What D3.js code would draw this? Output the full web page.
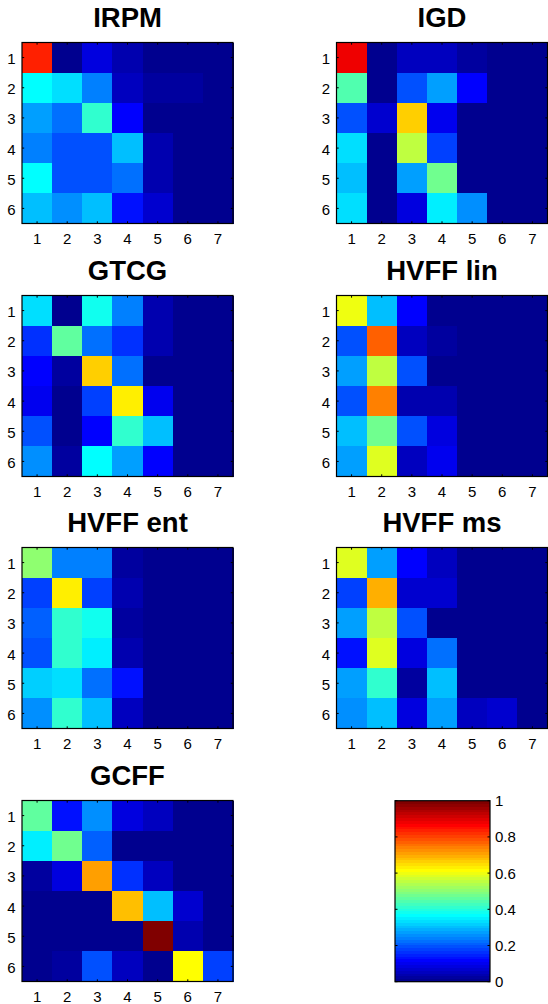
<!DOCTYPE html>
<html>
<head>
<meta charset="utf-8">
<script src="https://cdn.jsdelivr.net/npm/d3@7/dist/d3.min.js"></script>
<style>
  html, body { margin: 0; padding: 0; background: #fff; }
  svg { display: block; }
  text { font-family: "Liberation Sans", Arial, Helvetica, sans-serif; fill: #000; }
</style>
</head>
<body>
<svg id="chart" width="548" height="1004"></svg>
<script>
// ---- Data (scale 0..1) ----
const xTicks = [1, 2, 3, 4, 5, 6, 7];
const yTicks = [1, 2, 3, 4, 5, 6];
const colorbarTicks = [0, 0.2, 0.4, 0.6, 0.8, 1];
const titles = ["IRPM", "IGD", "GTCG", "HVFF lin", "HVFF ent", "HVFF ms", "GCFF"];

const irpm = [
  [0.84, 0.01, 0.09, 0.04, 0.01, 0.01, 0.01],
  [0.37, 0.33, 0.24, 0.05, 0.025, 0.03, 0.01],
  [0.27, 0.22, 0.41, 0.12, 0.01, 0.01, 0.01],
  [0.24, 0.20, 0.20, 0.31, 0.04, 0.01, 0.01],
  [0.36, 0.19, 0.20, 0.22, 0.04, 0.01, 0.01],
  [0.30, 0.26, 0.30, 0.135, 0.07, 0.01, 0.01]
];
const igd = [
  [0.88, 0.01, 0.05, 0.05, 0.03, 0.01, 0.01],
  [0.44, 0.01, 0.20, 0.27, 0.12, 0.01, 0.01],
  [0.19, 0.07, 0.66, 0.10, 0.01, 0.01, 0.01],
  [0.33, 0.01, 0.55, 0.175, 0.01, 0.01, 0.01],
  [0.30, 0.01, 0.27, 0.475, 0.01, 0.01, 0.01],
  [0.33, 0.01, 0.09, 0.35, 0.26, 0.01, 0.01]
];
const gtcg = [
  [0.34, 0.01, 0.39, 0.24, 0.04, 0.01, 0.01],
  [0.16, 0.46, 0.225, 0.16, 0.04, 0.01, 0.01],
  [0.12, 0.02, 0.67, 0.225, 0.01, 0.01, 0.01],
  [0.10, 0.015, 0.175, 0.64, 0.10, 0.01, 0.01],
  [0.19, 0.01, 0.12, 0.41, 0.30, 0.01, 0.01],
  [0.26, 0.02, 0.36, 0.27, 0.12, 0.01, 0.01]
];
const hvffLin = [
  [0.60, 0.30, 0.12, 0.01, 0.01, 0.01, 0.01],
  [0.19, 0.77, 0.05, 0.025, 0.01, 0.01, 0.01],
  [0.27, 0.56, 0.19, 0.01, 0.01, 0.01, 0.01],
  [0.19, 0.74, 0.04, 0.04, 0.01, 0.01, 0.01],
  [0.30, 0.47, 0.195, 0.09, 0.01, 0.01, 0.01],
  [0.27, 0.59, 0.06, 0.10, 0.01, 0.01, 0.01]
];
const hvffEnt = [
  [0.51, 0.24, 0.24, 0.02, 0.01, 0.01, 0.01],
  [0.175, 0.64, 0.175, 0.04, 0.01, 0.01, 0.01],
  [0.21, 0.41, 0.375, 0.03, 0.01, 0.01, 0.01],
  [0.195, 0.41, 0.355, 0.04, 0.01, 0.01, 0.01],
  [0.32, 0.34, 0.225, 0.135, 0.01, 0.01, 0.01],
  [0.26, 0.41, 0.30, 0.06, 0.01, 0.01, 0.01]
];
const hvffMs = [
  [0.59, 0.27, 0.12, 0.05, 0.01, 0.01, 0.01],
  [0.175, 0.69, 0.07, 0.07, 0.01, 0.01, 0.01],
  [0.27, 0.56, 0.19, 0.01, 0.01, 0.01, 0.01],
  [0.135, 0.58, 0.09, 0.225, 0.01, 0.01, 0.01],
  [0.27, 0.42, 0.03, 0.31, 0.01, 0.01, 0.01],
  [0.26, 0.30, 0.09, 0.27, 0.05, 0.07, 0.01]
];
const gcff = [
  [0.46, 0.135, 0.25, 0.09, 0.06, 0.01, 0.01],
  [0.345, 0.475, 0.21, 0.01, 0.01, 0.01, 0.01],
  [0.02, 0.09, 0.71, 0.16, 0.06, 0.01, 0.01],
  [0.01, 0.01, 0.01, 0.675, 0.30, 0.07, 0.01],
  [0.01, 0.01, 0.01, 0.01, 0.99, 0.04, 0.01],
  [0.01, 0.02, 0.19, 0.06, 0.01, 0.615, 0.175]
];
const matrices = [irpm, igd, gtcg, hvffLin, hvffEnt, hvffMs, gcff];

// ---- MATLAB jet(64) colormap ----
function jet(m) {
  const n = Math.ceil(m / 4);
  const u = [];
  for (let i = 1; i <= n; i++) u.push(i / n);
  for (let i = 1; i < n; i++) u.push(1);
  for (let i = n; i >= 1; i--) u.push(i / n);
  const g0 = Math.ceil(n / 2) - ((m % 4) === 1 ? 1 : 0);
  const R = new Array(m).fill(0), G = new Array(m).fill(0), B = new Array(m).fill(0);
  u.forEach((val, k) => {
    const gi = g0 + k + 1, ri = gi + n, bi = gi - n;
    if (gi >= 1 && gi <= m) G[gi - 1] = val;
    if (ri >= 1 && ri <= m) R[ri - 1] = val;
    if (bi >= 1 && bi <= m) B[bi - 1] = val;
  });
  return d3.range(m).map(i => d3.rgb(R[i] * 255, G[i] * 255, B[i] * 255).formatHex());
}
const jet64 = jet(64);
const color = d3.scaleQuantize().domain([0, 1]).range(jet64);

const svg = d3.select("#chart");

// ---- layout ----
const panelW = 211, panelH = 181;
const colX = [22, 336.5];
const rowY = [42.5, 295.5, 547.5, 800.5];
const tickFont = 15;

matrices.forEach((mat, idx) => {
  const px = colX[idx % 2], py = rowY[Math.floor(idx / 2)];
  const g = svg.append("g").attr("transform", `translate(${px},${py})`);
  const x = d3.scaleBand().domain(xTicks).range([0, panelW]);
  const y = d3.scaleBand().domain(yTicks).range([0, panelH]);

  mat.forEach((row, r) => {
    g.selectAll(null).data(row).enter().append("rect")
      .attr("x", (d, c) => x(xTicks[c]))
      .attr("y", y(yTicks[r]))
      .attr("width", x.bandwidth() + 0.5)
      .attr("height", y.bandwidth() + 0.5)
      .attr("fill", d => color(d))
      .attr("shape-rendering", "crispEdges");
  });

  // tick marks (inside, MATLAB style)
  const tl = 2.2;
  xTicks.forEach(t => {
    const cx = x(t) + x.bandwidth() / 2;
    g.append("line").attr("x1", cx).attr("x2", cx).attr("y1", panelH).attr("y2", panelH - tl).attr("stroke", "#000");
    g.append("line").attr("x1", cx).attr("x2", cx).attr("y1", 0).attr("y2", tl).attr("stroke", "#000");
  });
  yTicks.forEach(t => {
    const cy = y(t) + y.bandwidth() / 2;
    g.append("line").attr("y1", cy).attr("y2", cy).attr("x1", 0).attr("x2", tl).attr("stroke", "#000");
    g.append("line").attr("y1", cy).attr("y2", cy).attr("x1", panelW).attr("x2", panelW - tl).attr("stroke", "#000");
  });

  g.append("rect").attr("x", 0).attr("y", 0).attr("width", panelW).attr("height", panelH)
    .attr("fill", "none").attr("stroke", "#000").attr("stroke-width", 1.2);

  // axis labels
  g.selectAll(null).data(xTicks).enter().append("text")
    .attr("x", d => x(d) + x.bandwidth() / 2)
    .attr("y", panelH + 20)
    .attr("text-anchor", "middle")
    .attr("font-size", tickFont)
    .text(d => d);
  g.selectAll(null).data(yTicks).enter().append("text")
    .attr("x", -6.5)
    .attr("y", d => y(d) + y.bandwidth() / 2 + 6.5)
    .attr("text-anchor", "end")
    .attr("font-size", tickFont)
    .text(d => d);

  // title
  g.append("text")
    .attr("x", panelW / 2)
    .attr("y", -15.5)
    .attr("text-anchor", "middle")
    .attr("font-size", 27.5)
    .attr("font-weight", "bold")
    .text(titles[idx]);
});

// ---- colorbar ----
const cbX = 395, cbY = 800.7, cbW = 95, cbH = 181;
const cbScale = d3.scaleLinear().domain([0, 1]).range([cbY + cbH, cbY]);
const cb = svg.append("g");
cb.selectAll(null).data(jet64).enter().append("rect")
  .attr("x", cbX)
  .attr("y", (d, i) => cbScale((i + 1) / 64))
  .attr("width", cbW)
  .attr("height", cbH / 64 + 0.4)
  .attr("fill", d => d)
  .attr("shape-rendering", "crispEdges");
colorbarTicks.forEach(t => {
  const ty = cbScale(t);
  cb.append("line").attr("x1", cbX).attr("x2", cbX + 2.5).attr("y1", ty).attr("y2", ty).attr("stroke", "#000");
  cb.append("line").attr("x1", cbX + cbW).attr("x2", cbX + cbW - 2.5).attr("y1", ty).attr("y2", ty).attr("stroke", "#000");
});
cb.append("rect").attr("x", cbX).attr("y", cbY).attr("width", cbW).attr("height", cbH)
  .attr("fill", "none").attr("stroke", "#000").attr("stroke-width", 1.2);
cb.selectAll(null).data(colorbarTicks).enter().append("text")
  .attr("x", cbX + cbW + 5)
  .attr("y", d => cbScale(d) + 5.5)
  .attr("font-size", tickFont)
  .text(d => d3.format("")(d));
</script>
</body>
</html>
